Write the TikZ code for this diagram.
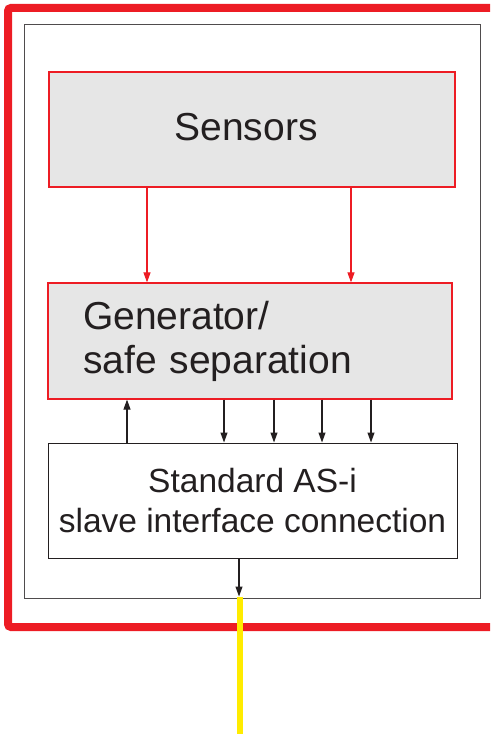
\documentclass[tikz,border=0pt]{standalone}
\usepackage{fontspec}
\setmainfont{Liberation Sans}
\usetikzlibrary{arrows.meta}
\definecolor{asred}{HTML}{ED1C24}
\definecolor{asgray}{HTML}{E6E6E6}
\definecolor{asink}{HTML}{231F20}
\definecolor{asyellow}{HTML}{FFEC00}
\begin{document}
\begin{tikzpicture}[x=1pt,y=-1pt,
		redbox/.style={draw=asred,line width=1.2pt,fill=asgray,inner sep=0pt},
		whitebox/.style={draw=asink,line width=1pt,fill=white,inner sep=0pt},
		redarrow/.style={draw=asred,line width=1.1pt,-{Triangle[length=10pt,width=7pt]}},
		blackarrow/.style={draw=asink,line width=1.1pt,-{Triangle[length=10pt,width=7pt]}},
		bigtext/.style={font=\fontsize{39}{44}\selectfont,text=asink},
		smalltext/.style={font=\fontsize{33.5}{40}\selectfont,text=asink}]
			\useasboundingbox (0,0) rectangle (490,735);
			\draw[asred,line width=8pt,rounded corners=3pt] (490,8) -- (8,8) -- (8,627) -- (490,627);
			\node[draw=asink!80,line width=1pt,minimum width=456pt,minimum height=573pt,inner sep=0pt] (dev) at (252,311.5) {};
			\node[redbox,bigtext,minimum width=406pt,minimum height=115pt,text depth=6pt,inner xsep=0pt,align=center] (sens) at (252,129.5) {Sensors\hspace{12pt}};
			\node[redbox,bigtext,text width=334pt,inner xsep=35pt,minimum height=116pt,align=left] (gen) at (250,341) {Generator/\\safe separation};
			\node[whitebox,smalltext,minimum width=409pt,minimum height=115pt,align=center] (std) at (252.5,500.5) {Standard AS-i\\slave interface connection};
			\draw[redarrow] (sens.south -| 147,0) -- (gen.north -| 147,0);
			\draw[redarrow] (sens.south -| 351,0) -- (gen.north -| 351,0);
			\draw[blackarrow] (std.north -| 127,0) -- (gen.south -| 127,0);
			\foreach \x in {224,274,322,371}
				\draw[blackarrow] (gen.south -| \x,0) -- (std.north -| \x,0);
			\draw[blackarrow,shorten >=2pt] (std.south -| 239,0) -- (dev.south -| 239,0);
			\coordinate (bus) at (240,734);
			\draw[asyellow,line width=6pt] ([yshift=2pt]dev.south -| bus) -- (bus);
		\end{tikzpicture}
\end{document}
